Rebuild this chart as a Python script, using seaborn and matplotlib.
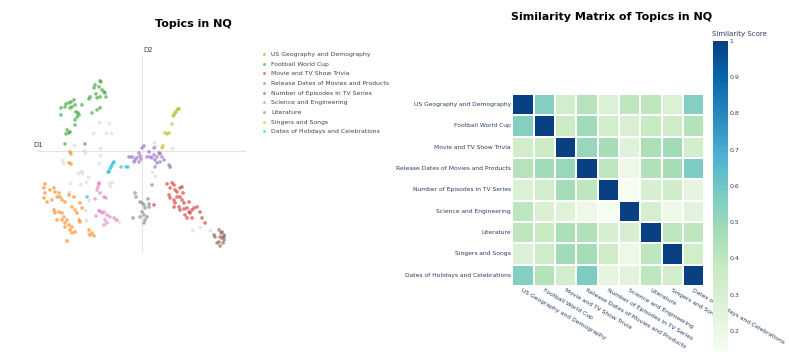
import numpy as np
import pandas as pd
import seaborn as sns
import matplotlib.pyplot as plt

# topic order / palette (plotly-like category colors)
topics = [
    "US Geography and Demography",
    "Football World Cup",
    "Movie and TV Show Trivia",
    "Release Dates of Movies and Products",
    "Number of Episodes in TV Series",
    "Science and Engineering",
    "Literature",
    "Singers and Songs",
    "Dates of Holidays and Celebrations",
]
topic_colors = ["#ff7f0e", "#2ca02c", "#d62728", "#9467bd", "#8c564b",
                "#e377c2", "#7f7f7f", "#bcbd22", "#17becf"]

# 2D projection of the questions (D1, D2)
geo_pts = [(-7.2, -0.1), (-7.1, -0.3), (-7.3, -1.2), (-7.1, -1.3), (-9.7, -3.3), (-9.8, -3.7),
           (-9.7, -4.2), (-9.8, -4.7), (-9.5, -5.1), (-8.8, -3.7), (-8.7, -4.1), (-8.3, -4.2),
           (-8.2, -4.6), (-8.0, -4.9), (-8.5, -4.6), (-9.0, -4.9), (-9.2, -3.9), (-7.7, -5.1),
           (-8.8, -5.9), (-8.7, -6.2), (-8.3, -6.1), (-8.0, -6.2), (-8.5, -6.9), (-7.8, -6.6),
           (-7.5, -6.9), (-7.7, -7.2), (-7.3, -7.4), (-7.0, -7.6), (-7.2, -7.9), (-7.0, -8.2),
           (-7.5, -9.0), (-6.3, -6.9), (-6.2, -7.1), (-6.5, -6.2), (-6.7, -5.9), (-7.0, -5.6),
           (-6.2, -5.2), (-6.8, -4.6), (-7.3, -4.4), (-5.3, -7.9), (-5.0, -8.2), (-4.8, -8.5),
           (-5.2, -8.4), (-8.0, -6.9), (-7.7, -7.6), (-6.7, -8.1), (-6.0, -5.7)]
football_pts = [(-4.2, 7.0), (-4.1, 6.9), (-4.7, 6.6), (-4.3, 6.4), (-4.8, 6.3), (-4.0, 6.1),
                (-3.8, 5.9), (-3.7, 5.8), (-3.6, 5.4), (-4.6, 5.7), (-4.2, 5.4), (-4.5, 5.3),
                (-5.3, 5.2), (-5.2, 5.4), (-6.8, 5.1), (-7.1, 4.9), (-7.3, 4.8), (-6.7, 4.6),
                (-7.0, 4.4), (-7.6, 4.7), (-8.1, 4.3), (-7.7, 4.4), (-7.2, 4.3), (-6.4, 3.8),
                (-6.3, 3.6), (-6.5, 3.4), (-6.7, 3.1), (-6.6, 3.9), (-8.1, 3.6), (-4.5, 4.1),
                (-5.0, 3.8), (-7.5, 2.1), (-7.3, 1.8), (-7.6, 1.7), (-7.2, 1.9), (-6.7, 2.6),
                (-7.7, 0.7), (-5.7, 0.7), (-4.2, 4.3), (-6.0, 4.6)]
movie_pts = [(2.5, -3.3), (3.0, -3.2), (3.2, -3.4), (2.8, -3.7), (3.3, -3.9), (3.8, -3.7),
             (4.0, -3.6), (3.5, -4.1), (4.1, -4.2), (2.7, -4.4), (2.8, -4.7), (3.2, -4.9),
             (3.3, -5.2), (3.7, -5.6), (3.8, -5.9), (4.2, -5.8), (4.5, -5.7), (4.7, -6.1),
             (5.0, -5.9), (5.2, -5.7), (5.5, -5.6), (4.8, -6.2), (4.3, -6.4), (4.5, -6.7),
             (4.0, -4.9), (4.2, -5.2), (4.7, -5.1), (3.5, -4.6), (3.8, -4.6), (1.2, -5.4),
             (5.8, -6.1), (6.0, -6.7), (6.3, -7.2), (5.0, -6.7), (3.2, -5.6)]
release_pts = [(0.2, 0.5), (0.0, 0.3), (-0.3, -0.2), (-0.2, -0.5), (-0.5, -0.7), (-0.7, -0.9),
               (-1.0, -0.6), (-1.3, -0.6), (0.7, -0.1), (1.2, 0.3), (1.2, -0.4), (1.5, -0.6),
               (1.7, -0.2), (1.8, -0.3), (1.3, -0.9), (0.8, -0.6), (1.0, -0.7), (2.0, -0.6),
               (2.2, -0.9), (1.3, -1.6), (2.7, -1.4), (2.8, -1.6), (-0.8, -1.1), (-0.3, -1.1),
               (0.5, -0.6), (-0.1, -0.8), (1.5, -1.2), (1.8, -1.1)]
episodes_pts = [(7.7, -7.9), (8.0, -8.1), (8.2, -8.4), (7.8, -8.6), (8.0, -8.7), (8.2, -8.9),
                (7.7, -9.1), (7.5, -9.2), (7.8, -9.5), (7.2, -8.4), (7.3, -8.6), (7.9, -8.2),
                (8.2, -8.6), (8.1, -9.2)]
science_pts = [(-4.3, -3.2), (-4.4, -3.6), (-4.3, -3.3), (-4.5, -3.9), (-4.2, -4.2), (-4.7, -4.8),
               (-3.8, -4.6), (-3.6, -4.7), (-4.2, -6.0), (-3.8, -6.1), (-4.3, -6.0), (-4.0, -6.2),
               (-3.5, -6.4), (-3.2, -6.6), (-2.8, -6.7), (-3.7, -6.9), (-3.5, -7.2), (-3.8, -7.4),
               (-2.5, -6.9), (-4.6, -6.5)]
literature_pts = [(-0.7, -4.2), (-0.6, -4.6), (-0.2, -5.1), (0.0, -5.2), (0.2, -5.4), (0.6, -4.8),
                  (0.7, -5.3), (0.3, -5.7), (0.0, -6.1), (0.2, -6.4), (-0.2, -6.6), (0.3, -6.9),
                  (0.5, -6.6), (-0.9, -6.7), (1.0, -3.4), (0.7, -5.6), (0.2, -7.2)]
singers_pts = [(3.5, 4.1), (3.6, 4.2), (3.4, 3.9), (3.3, 3.8), (3.2, 3.6), (3.1, 3.5), (3.7, 4.2),
               (3.0, 2.7), (2.3, 1.8), (2.5, 1.7), (2.7, 1.8), (2.0, 0.3), (2.1, 0.5)]
holidays_pts = [(-2.8, -1.1), (-2.9, -1.2), (-3.0, -1.4), (-3.1, -1.6), (-3.2, -1.8), (-3.3, -2.1),
                (-3.4, -2.1), (-2.1, -1.6), (-1.6, -1.6), (-1.4, -1.6), (-5.5, -4.6)]
# unassigned questions (light grey, not in legend)
outlier_pts = [(-4.3, 2.9), (-3.3, 2.8), (-4.9, 1.8), (-3.6, 1.8), (-3.1, 1.8), (-6.8, 0.6),
               (-5.8, 0.1), (-5.7, -0.2), (-4.2, 0.3), (-4.2, -0.4), (-4.3, -1.2), (-8.0, -0.9),
               (-7.9, -1.2), (-6.4, -2.2), (-6.1, -2.0), (-6.0, -2.2), (-5.4, -2.6), (-5.6, -3.1),
               (-7.2, -3.2), (-6.2, -3.3), (-7.3, -4.1), (-5.3, -4.9), (-5.7, -5.9), (-5.6, -6.9),
               (-5.4, -8.2), (-3.3, -3.2), (-3.2, -3.5), (-3.0, -3.1), (-2.3, -7.1), (-2.7, -6.9),
               (1.2, 0.9), (1.3, 0.5), (3.0, 0.3), (1.3, -2.5), (2.8, -1.6), (-1.2, -0.6),
               (-0.8, -0.6), (5.0, -7.9), (6.8, -7.9), (5.8, -7.6), (1.0, -2.1), (1.8, -0.1)]

cluster_pts = [geo_pts, football_pts, movie_pts, release_pts, episodes_pts,
               science_pts, literature_pts, singers_pts, holidays_pts]

# similarity matrix between topics
similarity = [
    [1.00, 0.55, 0.33, 0.42, 0.28, 0.40, 0.40, 0.28, 0.55],
    [0.55, 1.00, 0.36, 0.48, 0.33, 0.29, 0.37, 0.35, 0.43],
    [0.33, 0.36, 1.00, 0.50, 0.47, 0.26, 0.45, 0.48, 0.32],
    [0.42, 0.48, 0.50, 1.00, 0.40, 0.19, 0.44, 0.47, 0.57],
    [0.28, 0.33, 0.47, 0.40, 1.00, 0.15, 0.30, 0.34, 0.23],
    [0.40, 0.29, 0.26, 0.19, 0.15, 1.00, 0.30, 0.19, 0.25],
    [0.40, 0.37, 0.45, 0.44, 0.30, 0.30, 1.00, 0.40, 0.40],
    [0.28, 0.35, 0.48, 0.47, 0.34, 0.19, 0.40, 1.00, 0.33],
    [0.55, 0.43, 0.32, 0.57, 0.23, 0.25, 0.40, 0.33, 1.00],
]

rows = []
for name, pts in zip(topics, cluster_pts):
    for x, y in pts:
        rows.append({"D1": x, "D2": y, "topic": name})
df = pd.DataFrame(rows)
df_out = pd.DataFrame(outlier_pts, columns=["D1", "D2"])
sim_df = pd.DataFrame(similarity, index=topics, columns=topics)

fig = plt.figure(figsize=(7.89, 3.61), dpi=100)
text_col = "#2a3f5f"

# ---- left: scatter of topics ----
ax1 = fig.add_axes([0.0469, 0.302, 0.265, 0.546])
ax1.axhline(0, color="#e3e3e3", lw=0.8, zorder=0)
ax1.axvline(0, color="#e3e3e3", lw=0.8, zorder=0)
sns.scatterplot(data=df_out, x="D1", y="D2", color="#d5d5d5", s=7, linewidth=0,
                alpha=0.6, legend=False, ax=ax1)
sns.scatterplot(data=df, x="D1", y="D2", hue="topic", hue_order=topics,
                palette=topic_colors, s=7, linewidth=0, alpha=0.6, ax=ax1)
ax1.set_xlim(-10.5, 10.4)
ax1.set_ylim(-10.1, 9.6)
ax1.set_xticks([])
ax1.set_yticks([])
ax1.set_xlabel("")
ax1.set_ylabel("")
for sp in ax1.spines.values():
    sp.set_visible(False)
ax1.text(-10.9, 0.25, "D1", fontsize=5, color="#444444", ha="left", va="bottom", clip_on=False)
ax1.text(0.1, 9.75, "D2", fontsize=5, color="#444444", ha="left", va="bottom", clip_on=False)
sns.move_legend(ax1, "upper left", bbox_to_anchor=(0.324, 0.872),
                bbox_transform=fig.transFigure, frameon=False, title=None,
                fontsize=4.4, labelspacing=0.72, handletextpad=0.6,
                handlelength=1.0, markerscale=0.8)
for t in ax1.get_legend().get_texts():
    t.set_color("#444444")
fig.text(0.2446, 0.933, "Topics in NQ", ha="center", va="center",
         fontsize=8, fontweight="bold")

# ---- right: similarity heatmap ----
ax2 = fig.add_axes([0.6493, 0.2078, 0.2433, 0.532])
cax = fig.add_axes([0.904, 0.0285, 0.0183, 0.859])
sns.heatmap(sim_df, cmap="GnBu", vmin=0.146, vmax=1.0, square=False,
            linewidths=0.3, linecolor="white", ax=ax2, cbar_ax=cax)
ax2.tick_params(length=0, pad=1, labelsize=4.3, labelcolor=text_col)
ax2.set_xticklabels(topics, rotation=-30, ha="left", va="top", rotation_mode="anchor")
ax2.set_yticklabels(topics, rotation=0)
ax2.set_xlabel("")
ax2.set_ylabel("")

cax.set_yticks([0.2, 0.3, 0.4, 0.5, 0.6, 0.7, 0.8, 0.9, 1.0])
cax.set_yticklabels(["0.2", "0.3", "0.4", "0.5", "0.6", "0.7", "0.8", "0.9", "1"])
cax.tick_params(length=0, pad=1.5, labelsize=4.5, labelcolor=text_col)
for sp in cax.spines.values():
    sp.set_visible(False)
fig.text(0.903, 0.905, "Similarity Score", ha="left", va="center",
         fontsize=5, color=text_col)
fig.text(0.775, 0.952, "Similarity Matrix of Topics in NQ", ha="center", va="center",
         fontsize=8, fontweight="bold")

fig.savefig("out.png", dpi=100)
